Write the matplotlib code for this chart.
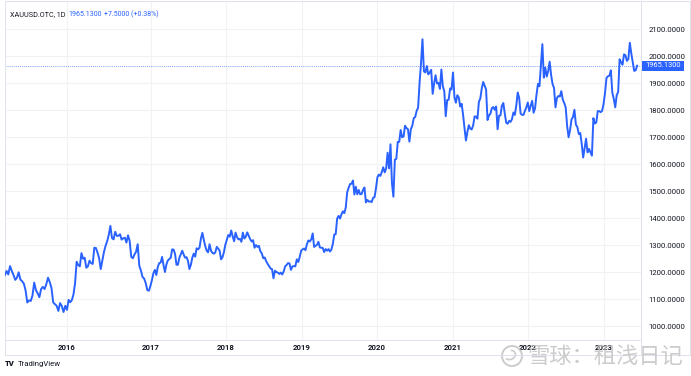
import numpy as np
import pandas as pd
import matplotlib
matplotlib.use("Agg")
import matplotlib.pyplot as plt
from matplotlib.transforms import blended_transform_factory
from matplotlib.patches import Rectangle, Circle, Arc
from matplotlib.lines import Line2D

# ---------------- data ----------------
symbol = "XAUUSD.OTC, 1D"
last_price = 1965.13
change = 7.5
change_pct = 0.38

segment_starts = ["2015-04-24", "2016-01-01", "2017-01-06", "2018-01-05", "2019-01-04",
                  "2020-01-03", "2021-01-01", "2022-01-07", "2023-01-06"]

price_2015 = [1190, 1205, 1192, 1223, 1205, 1190, 1172, 1180, 1200, 1173,
              1167, 1158, 1133, 1088, 1096, 1094, 1114, 1162, 1134, 1122,
              1108, 1138, 1146, 1138, 1156, 1180, 1164, 1142, 1089, 1082,
              1076, 1057, 1086, 1075, 1053, 1076]
price_2016 = [1061, 1098, 1089, 1097, 1117, 1158, 1239, 1227, 1222, 1271,
              1250, 1254, 1217, 1222, 1243, 1234, 1231, 1291, 1290, 1273,
              1252, 1212, 1243, 1275, 1298, 1315, 1339, 1372, 1327, 1322,
              1350, 1335, 1335, 1341, 1321, 1326, 1328, 1310, 1337, 1316,
              1257, 1252, 1266, 1276, 1304, 1224, 1207, 1183, 1177, 1160,
              1134, 1132, 1151]
price_2017 = [1173, 1197, 1209, 1190, 1220, 1234, 1236, 1257, 1226, 1201,
              1229, 1244, 1249, 1254, 1285, 1284, 1268, 1228, 1228, 1254,
              1267, 1280, 1266, 1254, 1256, 1242, 1212, 1228, 1254, 1269,
              1258, 1289, 1285, 1291, 1325, 1346, 1320, 1297, 1280, 1274,
              1304, 1280, 1272, 1269, 1274, 1294, 1288, 1280, 1248, 1256,
              1275, 1303]
price_2018 = [1320, 1338, 1332, 1355, 1333, 1315, 1347, 1330, 1322, 1324,
              1313, 1347, 1325, 1332, 1348, 1335, 1323, 1314, 1319, 1291,
              1301, 1294, 1298, 1278, 1270, 1252, 1255, 1241, 1231, 1223,
              1214, 1212, 1178, 1206, 1201, 1199, 1194, 1199, 1192, 1203,
              1222, 1227, 1234, 1233, 1209, 1222, 1223, 1222, 1248, 1238,
              1257, 1280]
price_2019 = [1285, 1288, 1282, 1304, 1318, 1314, 1322, 1344, 1294, 1298,
              1302, 1313, 1292, 1291, 1290, 1275, 1286, 1280, 1286, 1277,
              1284, 1305, 1340, 1341, 1399, 1409, 1399, 1415, 1426, 1419,
              1440, 1497, 1513, 1527, 1528, 1540, 1488, 1517, 1489, 1505,
              1489, 1490, 1505, 1514, 1459, 1468, 1462, 1463, 1460, 1476,
              1478, 1511]
price_2020 = [1552, 1562, 1557, 1571, 1589, 1570, 1584, 1643, 1585, 1674,
              1530, 1480, 1617, 1620, 1683, 1683, 1727, 1700, 1703, 1743,
              1734, 1730, 1684, 1730, 1743, 1771, 1775, 1798, 1810, 1902,
              1975, 2063, 1944, 1940, 1964, 1933, 1940, 1950, 1861, 1899,
              1930, 1899, 1902, 1879, 1951, 1889, 1871, 1778, 1838, 1839,
              1881, 1877]
price_2021 = [1940, 1849, 1828, 1856, 1848, 1814, 1824, 1784, 1734, 1688,
              1720, 1745, 1732, 1729, 1744, 1777, 1777, 1769, 1831, 1844,
              1881, 1905, 1891, 1877, 1764, 1781, 1787, 1808, 1812, 1802,
              1814, 1730, 1780, 1781, 1817, 1827, 1788, 1754, 1750, 1761,
              1757, 1767, 1792, 1783, 1818, 1866, 1846, 1788, 1783, 1783,
              1798, 1811, 1829]
price_2022 = [1797, 1817, 1835, 1791, 1808, 1859, 1898, 1889, 1966, 2045,
              1921, 1958, 1925, 1945, 1980, 1931, 1897, 1883, 1811, 1846,
              1853, 1851, 1871, 1840, 1827, 1811, 1742, 1700, 1727, 1766,
              1775, 1802, 1747, 1738, 1712, 1716, 1675, 1625, 1661, 1695,
              1644, 1657, 1645, 1632, 1771, 1751, 1755, 1797, 1797, 1793,
              1798, 1824]
price_2023 = [1865, 1920, 1926, 1928, 1948, 1865, 1842, 1811, 1856, 1868,
              1989, 1978, 1969, 2007, 2004, 1983, 1990, 2050, 2011, 1978,
              1946, 1948, 1965.13]

year_ticks = [2016, 2017, 2018, 2019, 2020, 2021, 2022, 2023]
price_ticks = list(range(1000, 2101, 100))

# ---------------- build series ----------------
segments = [price_2015, price_2016, price_2017, price_2018, price_2019,
            price_2020, price_2021, price_2022, price_2023]
dates = []
values = []
for start, seg in zip(segment_starts, segments):
    dates.extend(pd.date_range(start, periods=len(seg), freq="W-FRI"))
    values.extend(seg)
dates = pd.DatetimeIndex(dates)
t = dates.year + (dates.dayofyear - 1) / np.where(dates.is_leap_year, 366.0, 365.0)
values = np.array(values, dtype=float)

# TradingView spaces bars evenly, so calendar years get unequal widths
axis_years = [2014, 2015, 2016, 2017, 2018, 2019, 2020, 2021, 2022, 2023, 2024]
axis_pos = [-113, -23, 67, 151, 226, 302, 377, 453, 528, 604, 680]

def fwd(x):
    return np.interp(x, axis_years, axis_pos)

def inv(p):
    return np.interp(p, axis_pos, axis_years)

# ---------------- figure ----------------
W, H = 691, 376
fig = plt.figure(figsize=(W / 100, H / 100), dpi=100)
fig.patch.set_facecolor("white")
ax_left, ax_right, ax_top, ax_bottom = 5, 640.7, 1, 340
ax = fig.add_axes([ax_left / W, 1 - ax_bottom / H, (ax_right - ax_left) / W,
                   (ax_bottom - ax_top) / H])
ax.set_xscale("function", functions=(fwd, inv))
ax.set_xlim(inv(ax_left), inv(ax_right))
ax.set_ylim(949.3, 2204.8)

BLUE = "#2962FF"
TXT = "#131722"
GRID = "#f0f2f6"
BORDER = "#e0e3eb"

ax.set_xticks(year_ticks)
ax.set_xticklabels([str(y) for y in year_ticks])
ax.set_yticks(price_ticks)
ax.set_yticklabels([f"{p:.4f}" for p in price_ticks])
ax.yaxis.tick_right()
ax.grid(True, color=GRID, lw=0.8)
ax.set_axisbelow(True)
ax.tick_params(axis="y", length=0, pad=5.8, labelsize=5.6, labelcolor=TXT)
ax.tick_params(axis="x", length=0, pad=3.0, labelsize=5.6, labelcolor=TXT)
for lab in ax.get_xticklabels() + ax.get_yticklabels():
    lab.set_fontfamily("Roboto")
for lab in ax.get_xticklabels():
    lab.set_fontweight("bold")
for sp in ax.spines.values():
    sp.set_color(BORDER)
    sp.set_linewidth(0.7)

ax.plot(t, values, color=BLUE, lw=1.4, solid_joinstyle="round", zorder=3)
ax.axhline(last_price, color=BLUE, lw=0.6, ls=(0, (1, 1.5)), alpha=0.8, zorder=2)

# last price label on the price axis
btf = blended_transform_factory(ax.transAxes, ax.transData)
axw = ax_right - ax_left
data_per_px = (2204.8 - 949.3) / (ax_bottom - ax_top)
ax.add_patch(Rectangle((1.0 + 1 / axw, last_price - 5.2 * data_per_px), 42 / axw,
                       10.4 * data_per_px, transform=btf, facecolor=BLUE,
                       edgecolor="none", clip_on=False, zorder=5))
ax.text(1.0 + 22 / axw, last_price, f"{last_price:.4f}", transform=btf, color="white",
        fontsize=5.4, fontfamily="Roboto", va="center", ha="center", zorder=6, clip_on=False)

# extra frame lines (time axis bottom and price axis separator)
fig.add_artist(Line2D([ax_left / W, 690 / W], [1 - 355 / H] * 2, transform=fig.transFigure,
                      color=BORDER, lw=0.7))
fig.add_artist(Line2D([ax_right / W] * 2, [1 - 340 / H, 1 - 355 / H], transform=fig.transFigure,
                      color=BORDER, lw=0.7))
fig.add_artist(Line2D([ax_left / W] * 2, [1 - 340 / H, 1 - 355 / H], transform=fig.transFigure,
                      color=BORDER, lw=0.7))
fig.add_artist(Line2D([690 / W] * 2, [1 - 1 / H, 1 - 355 / H], transform=fig.transFigure,
                      color=BORDER, lw=0.7))
fig.add_artist(Line2D([ax_right / W, 690 / W], [1 - 1 / H] * 2, transform=fig.transFigure,
                      color=BORDER, lw=0.7))

# header legend
hy = 1 - 14.5 / H
fig.text(10 / W, hy, symbol, fontsize=5.2, color=TXT, fontfamily="Roboto", va="center")
fig.text(68 / W, hy, f"{last_price:.4f}", fontsize=5.0, color=BLUE, fontfamily="Roboto", va="center")
fig.text(104 / W, hy, f"+{change:.4f} (+{change_pct:.2f}%)", fontsize=5.0, color=BLUE,
         fontfamily="Roboto", va="center")

# footer brand
fig.text(5 / W, 1 - 364 / H, "TV", fontsize=5.5, color=TXT, fontweight="heavy",
         fontfamily="Roboto", va="center")
fig.text(18 / W, 1 - 364 / H, "TradingView", fontsize=5.6, color=TXT,
         fontfamily="Roboto", va="center")

# watermark
wm_color = "#c4c4c4"
fig.text(527 / W, 1 - 356 / H, "雪球：租浅日记", fontsize=16, color=wm_color, alpha=0.85,
         fontfamily=["Noto Sans CJK SC", "DejaVu Sans"], va="center", ha="left")
fig.add_artist(Circle((512, H - 356), 10, transform=None, fill=False, ec=wm_color, lw=1.4, alpha=0.85))
fig.add_artist(Arc((510, H - 355), 11, 9, angle=20, theta1=200, theta2=60, transform=None,
                   ec=wm_color, lw=1.2, alpha=0.85))

fig.savefig("out.png", dpi=100, facecolor="white")
